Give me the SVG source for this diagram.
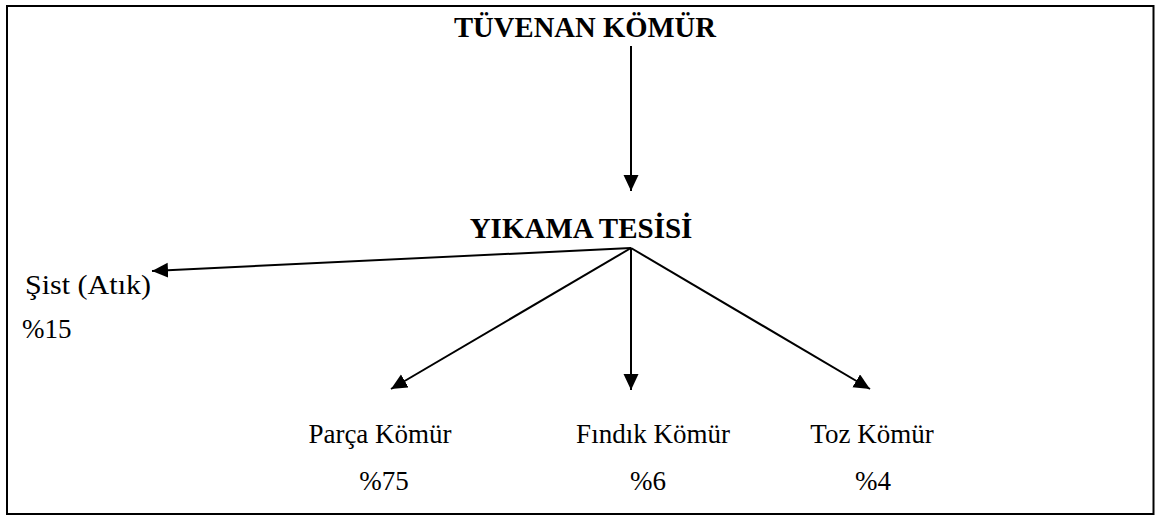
<svg xmlns="http://www.w3.org/2000/svg" width="1155" height="516" viewBox="0 0 1155 516">
<style>
.h{font-family:"Liberation Serif","Times New Roman",serif;font-weight:bold;font-size:29px;fill:#000}
.t{font-family:"Liberation Serif","Times New Roman",serif;font-size:27px;fill:#000}
.c line{stroke:#000;stroke-width:2}
</style>
<defs>
<marker id="ah" markerUnits="userSpaceOnUse" markerWidth="16" markerHeight="16" refX="16" refY="7.5" orient="auto">
<path d="M0,0 L16,7.5 L0,15 Z" fill="#000"/>
</marker>
</defs>
<rect x="7" y="6" width="1146.5" height="508" fill="#fff" stroke="#000" stroke-width="2"/>
<g id="tuvenan"><text class="h" x="585" y="37" text-anchor="middle" textLength="262" lengthAdjust="spacingAndGlyphs">TÜVENAN KÖMÜR</text></g>
<g id="yikama"><text class="h" x="581" y="238" text-anchor="middle">YIKAMA TESİSİ</text></g>
<g id="sist"><text class="t" x="25" y="294" textLength="126" lengthAdjust="spacingAndGlyphs">Şist (Atık)</text><text class="t" x="22" y="338">%15</text></g>
<g id="parca"><text class="t" x="380" y="443" text-anchor="middle">Parça Kömür</text><text class="t" x="384" y="490" text-anchor="middle">%75</text></g>
<g id="findik"><text class="t" x="653" y="443" text-anchor="middle">Fındık Kömür</text><text class="t" x="648" y="490" text-anchor="middle">%6</text></g>
<g id="toz"><text class="t" x="872" y="443" text-anchor="middle">Toz Kömür</text><text class="t" x="873" y="490" text-anchor="middle">%4</text></g>
<g id="connectors" class="c">
<line x1="631" y1="46" x2="631" y2="191" marker-end="url(#ah)"/>
<line x1="631" y1="248" x2="152" y2="271" marker-end="url(#ah)"/>
<line x1="631" y1="248" x2="391" y2="389" marker-end="url(#ah)"/>
<line x1="631" y1="248" x2="631" y2="390" marker-end="url(#ah)"/>
<line x1="631" y1="248" x2="870" y2="389" marker-end="url(#ah)"/>
</g>
</svg>
